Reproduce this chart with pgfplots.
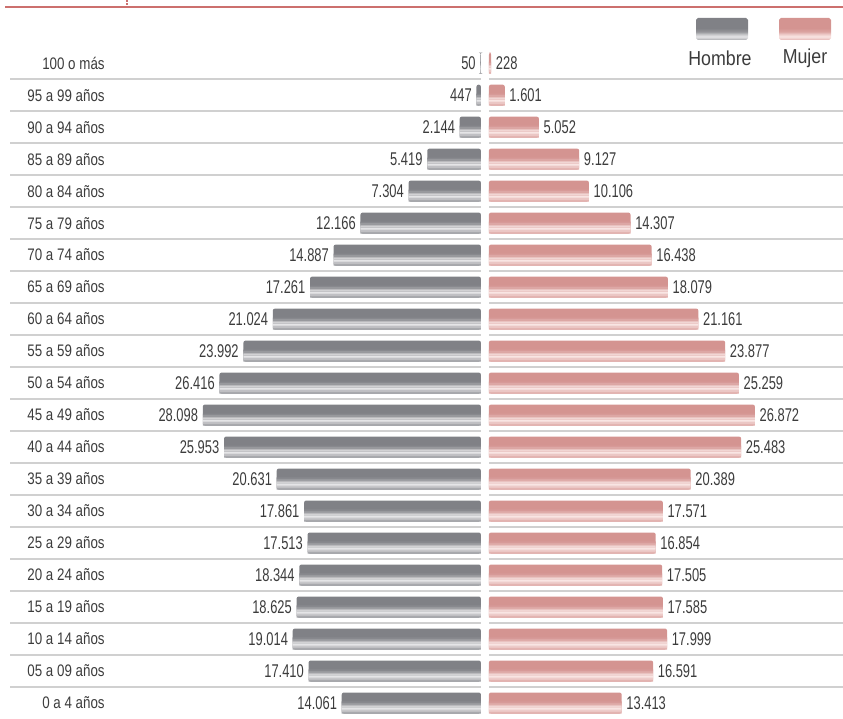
\documentclass[border=0pt]{standalone}
\usepackage{fontspec}
\setmainfont{Liberation Sans}
\newfontfamily\labfam{Liberation Sans}[FakeStretch=0.8]
\newfontfamily\valfam{Liberation Sans}[FakeStretch=0.7]
\newfontfamily\legfam{Liberation Sans}[FakeStretch=0.88]
\usepackage{pgfplots}
\pgfplotsset{compat=1.18}
\usepackage{pgfplotstable}

\definecolor{txt}{RGB}{60,60,60}
\definecolor{sepgray}{RGB}{208,208,208}
\definecolor{topred}{RGB}{204,112,110}
\definecolor{gD}{RGB}{128,129,134}
\definecolor{gL}{RGB}{229,229,231}
\definecolor{pD}{RGB}{212,148,145}
\definecolor{pL}{RGB}{249,229,227}

% legend swatch shadings (bottom -> top)
\pgfdeclareverticalshading{hshade}{100bp}{
  color(0bp)=(gL!37!gD); color(25bp)=(gL!37!gD); color(29bp)=(gL!75!gD);
  color(33bp)=(gL); color(38bp)=(gL!70!gD); color(44bp)=(gL!20!gD);
  color(52bp)=(gD); color(100bp)=(gD)}
\pgfdeclareverticalshading{mshade}{100bp}{
  color(0bp)=(pL!37!pD); color(25bp)=(pL!37!pD); color(29bp)=(pL!75!pD);
  color(33bp)=(pL); color(38bp)=(pL!70!pD); color(44bp)=(pL!20!pD);
  color(52bp)=(pD); color(100bp)=(pD)}

\pgfplotstableread{
i lab h m
0 {0 a 4 años} 14061 13413
1 {05 a 09 años} 17410 16591
2 {10 a 14 años} 19014 17999
3 {15 a 19 años} 18625 17585
4 {20 a 24 años} 18344 17505
5 {25 a 29 años} 17513 16854
6 {30 a 34 años} 17861 17571
7 {35 a 39 años} 20631 20389
8 {40 a 44 años} 25953 25483
9 {45 a 49 años} 28098 26872
10 {50 a 54 años} 26416 25259
11 {55 a 59 años} 23992 23877
12 {60 a 64 años} 21024 21161
13 {65 a 69 años} 17261 18079
14 {70 a 74 años} 14887 16438
15 {75 a 79 años} 12166 14307
16 {80 a 84 años} 7304 10106
17 {85 a 89 años} 5419 9127
18 {90 a 94 años} 2144 5052
19 {95 a 99 años} 447 1601
20 {100 o más} 50 228
}\pyr

\pgfplotsset{
  pyr/.style={
    scale only axis, height=13.44cm,
    ymin=-0.5, ymax=20.5, clip=false,
    axis line style={draw=none}, xtick=\empty,
    major tick length=0pt,
    xbar, bar width=0.42cm, bar shift=0pt,
  },
  vals/.style={
    point meta=explicit,
    nodes near coords={\pgfmathprintnumber[fixed, precision=0, 1000 sep={.}, assume math mode=true]{\pgfplotspointmeta}},
    nodes near coords style={font=\fontsize{10.5}{12}\selectfont\valfam, text=txt, inner sep=2.5pt},
  },
}

% thin light stripes laid over each bar to imitate the gloss
% #1 x expression, #2 dark colour, #3 light colour
\newcommand\gloss[3]{%
  \addplot[draw=none, fill=#3!37!#2, bar width=0.032cm] table[x expr=#1, y expr=\thisrow{i}-9.75/32] {\pyr};
  \addplot[draw=none, fill=#3!62!#2, bar width=0.032cm] table[x expr=#1, y expr=\thisrow{i}-8.25/32] {\pyr};
  \addplot[draw=none, fill=#3!87!#2, bar width=0.032cm] table[x expr=#1, y expr=\thisrow{i}-6.75/32] {\pyr};
  \addplot[draw=none, fill=#3, bar width=0.032cm] table[x expr=#1, y expr=\thisrow{i}-5.25/32] {\pyr};
  \addplot[draw=none, fill=#3!85!#2, bar width=0.032cm] table[x expr=#1, y expr=\thisrow{i}-3.75/32] {\pyr};
  \addplot[draw=none, fill=#3!57!#2, bar width=0.032cm] table[x expr=#1, y expr=\thisrow{i}-2.25/32] {\pyr};
  \addplot[draw=none, fill=#3!27!#2, bar width=0.032cm] table[x expr=#1, y expr=\thisrow{i}-0.75/32] {\pyr};
  \addplot[draw=none, fill=#3!8!#2, bar width=0.032cm] table[x expr=#1, y expr=\thisrow{i}+0.75/32] {\pyr};
}

\begin{document}
\begin{tikzpicture}[x=0.02cm,y=0.02cm]
\useasboundingbox (0,0) rectangle (843,718);

% row separators
\foreach \k in {0,...,19} {
  \draw[sepgray, line width=0.035cm] (10,639-32*\k) -- (481,639-32*\k);
  \draw[sepgray, line width=0.035cm] (489,639-32*\k) -- (843,639-32*\k);
}

% Hombre (left)
\begin{axis}[pyr, at={(0.2cm,-0.02cm)}, anchor=south west,
    width=9.42cm, xmin=-47576, xmax=0,
    ytick={0,...,20}, yticklabels from table={\pyr}{lab},
    yticklabel style={font=\fontsize{9.5}{11}\selectfont\labfam, text=txt,
      anchor=east, inner sep=0pt, xshift=1.9cm}]
  \addplot[draw=none, fill=gD, rounded corners=1.2pt, vals,
      nodes near coords align={anchor=east}]
    table[x expr=-\thisrow{h}, y=i, meta=h] {\pyr};
  \gloss{-\thisrow{h}}{gD}{gL}
\end{axis}

% Mujer (right)
\begin{axis}[pyr, at={(9.78cm,-0.02cm)}, anchor=south west,
    width=7.08cm, xmin=0, xmax=35758, ytick=\empty]
  \addplot[draw=none, fill=pD, rounded corners=1.2pt, vals,
      nodes near coords align={anchor=west}]
    table[x=m, y=i, meta=m] {\pyr};
  \gloss{\thisrow{m}}{pD}{pL}
\end{axis}

% top rule
\draw[topred, line width=0.05cm] (5,711) -- (843,711);
\draw[topred, line width=0.05cm, dash pattern=on 0.04cm off 0.03cm] (127,718) -- (127,712);

% legend
\shade[shading=hshade, rounded corners=1pt] (696,678) rectangle (748,700);
\shade[shading=mshade, rounded corners=1pt] (779,678) rectangle (831,700);
\node[font=\fontsize{11.5}{13}\selectfont\legfam, text=txt] at (720,660) {Hombre};
\node[font=\fontsize{11.5}{13}\selectfont\legfam, text=txt] at (805,660) {Mujer};
\end{tikzpicture}
\end{document}
